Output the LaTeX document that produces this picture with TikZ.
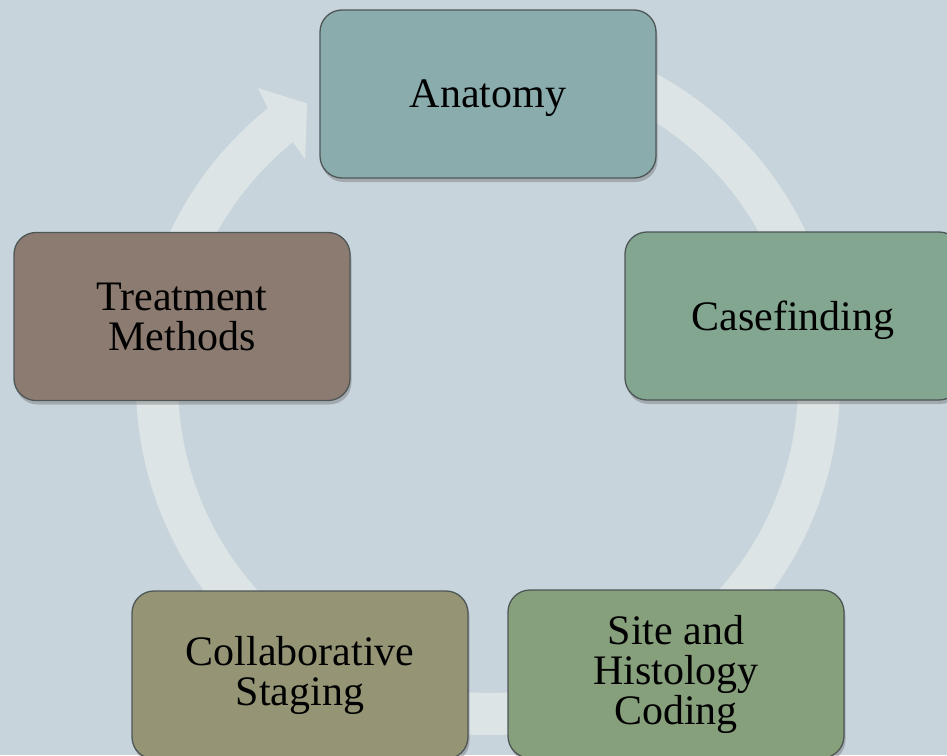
\documentclass[tikz,border=0pt]{standalone}
\usepackage{fontspec}
\setmainfont{Liberation Serif}
\usetikzlibrary{shadows}
\definecolor{bgc}{HTML}{C8D4DC}
\definecolor{ringc}{HTML}{DCE4E5}
\definecolor{edgec}{HTML}{4E5656}
\definecolor{c1}{HTML}{8AACAC}
\definecolor{c2}{HTML}{82A690}
\definecolor{c3}{HTML}{87A07C}
\definecolor{c4}{HTML}{959576}
\definecolor{c5}{HTML}{8B7B70}
\tikzset{
  cyclebox/.style={draw=edgec, line width=1.3pt, rounded corners=22pt,
    minimum width=336pt, minimum height=168pt, inner sep=0pt,
    align=center, text=black,
    font=\fontsize{42}{40}\selectfont,
    drop shadow={shadow xshift=1.5pt, shadow yshift=-4pt, opacity=0.3, fill=black!70}},
  oneline/.style={text depth=0pt},
  ringshape/.style={fill=ringc}
}
\begin{document}
\begin{tikzpicture}[x=1pt,y=1pt]
\useasboundingbox (0,0) rectangle (947,-755);
\fill[bgc] (0,0) rectangle (947,-755);
% circular arrow
\fill[ringshape, shift={(488,-383)}]
  (85:352) arc[start angle=85, end angle=-231.3, radius=352]
  -- (-232.05:374) -- (-237.1:333) -- (-230.75:289) -- (-231.0:310)
  arc[start angle=-231.0, end angle=85, radius=310] -- cycle;
% boxes
\node[cyclebox, oneline, fill=c1] (anat) at (488,-94) {Anatomy};
\node[cyclebox, oneline, fill=c2] (case) at (793,-316) {Casefinding};
\node[cyclebox, fill=c3] (site) at (676,-674) {Site and\\Histology\\Coding};
\node[cyclebox, fill=c4] (coll) at (300,-675) {Collaborative\\Staging};
\node[cyclebox, fill=c5] (treat) at (182,-316.5) {Treatment\\Methods};
\end{tikzpicture}
\end{document}
